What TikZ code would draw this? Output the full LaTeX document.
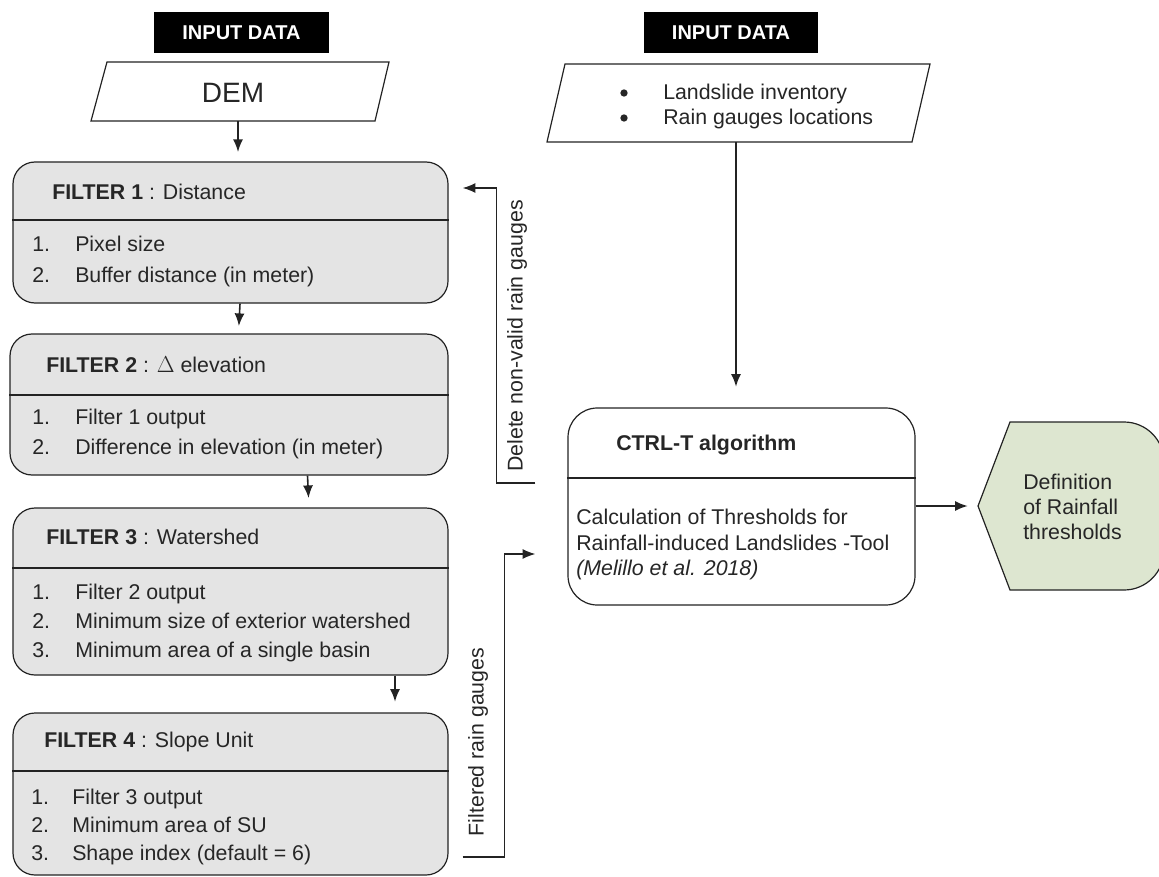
\documentclass[tikz,border=0pt]{standalone}
\usepackage{fontspec}
\setmainfont{Liberation Sans}
\usetikzlibrary{arrows.meta,fit,calc}
\definecolor{fgray}{RGB}{228,228,228}
\definecolor{hgreen}{RGB}{221,230,208}
\definecolor{lc}{RGB}{35,35,35}
\begin{document}
\begin{tikzpicture}[x=0.75pt,y=-0.75pt]
\tikzset{
  every node/.style={font=\fontsize{16pt}{19pt}\selectfont, text=black!85},
  fbox/.style={draw=lc, line width=0.9pt, fill=fgray, rounded corners=16.5pt, inner sep=0pt},
  cbox/.style={draw=lc, line width=0.9pt, fill=white, rounded corners=22pt, inner sep=0pt},
  frame/.style={inner sep=0pt},
  blk/.style={fill=black, inner sep=0pt, text=white, font=\fontsize{15pt}{18pt}\selectfont\bfseries},
  txt/.style={anchor=base west, inner sep=0pt},
  pgram/.style={draw=lc, line width=0.9pt, fill=white},
  arr/.style={draw=lc, line width=1.2pt, -{Latex[length=9.5pt,width=7.5pt]}},
  div/.style={draw=lc, line width=0.9pt},
  vlab/.style={rotate=90, inner sep=0pt},
  dot/.style={fill=black!85, circle, inner sep=0pt, minimum size=5.5pt}
}
\useasboundingbox (0,0) rectangle (1159,877);
\clip (0,0) rectangle (1159,877);

% ---------- left input ----------
\node[blk, fit={(154,12)(329,53)}] (in1) {};
\node[blk, fill=none] at (in1.center) {INPUT DATA};
\node[frame, fit={(91,62)(389,121)}] (dem) {};
\draw[pgram] (107,62) -- (389,62) -- (375,121) -- (91,121) -- cycle;
\node[font=\fontsize{21pt}{24pt}\selectfont] at (233,93) {DEM};

% ---------- filter 1 ----------
\node[fbox, fit={(13,162)(448,303)}] (f1) {};
\draw[div] (f1.west |- 0,220) -- (f1.east |- 0,220);
\node[txt] at (52,199.5) {\textbf{FILTER 1} : Distance};
\node[txt] at (32,252) {1.};
\node[txt] at (75,252) {Pixel size};
\node[txt] at (32,282) {2.};
\node[txt] at (75,282) {Buffer distance (in meter)};

% ---------- filter 2 ----------
\node[fbox, fit={(10,334)(448,475)}] (f2) {};
\draw[div] (f2.west |- 0,395) -- (f2.east |- 0,395);
\node[txt] at (46,372) {\textbf{FILTER 2} : $\Delta$ elevation};
\node[txt] at (32,424) {1.};
\node[txt] at (75,424) {Filter 1 output};
\node[txt] at (32,454) {2.};
\node[txt] at (75,454) {Difference in elevation (in meter)};

% ---------- filter 3 ----------
\node[fbox, fit={(13,508)(448,675)}] (f3) {};
\draw[div] (f3.west |- 0,568) -- (f3.east |- 0,568);
\node[txt] at (46,544) {\textbf{FILTER 3} : Watershed};
\node[txt] at (32,599) {1.};
\node[txt] at (75,599) {Filter 2 output};
\node[txt] at (32,628) {2.};
\node[txt] at (75,628) {Minimum size of exterior watershed};
\node[txt] at (32,657) {3.};
\node[txt] at (75,657) {Minimum area of a single basin};

% ---------- filter 4 ----------
\node[fbox, fit={(13,713)(448,875)}] (f4) {};
\draw[div] (f4.west |- 0,771) -- (f4.east |- 0,771);
\node[txt] at (44,747) {\textbf{FILTER 4} : Slope Unit};
\node[txt] at (31,804) {1.};
\node[txt] at (72,804) {Filter 3 output};
\node[txt] at (31,832) {2.};
\node[txt] at (72,832) {Minimum area of SU};
\node[txt] at (31,860) {3.};
\node[txt] at (72,860) {Shape index (default = 6)};

% ---------- vertical arrows ----------
\draw[arr, shorten >=7pt] ($(dem.south)+(-2,0)$) -- ($(f1.north)+(7.5,0)$);
\draw[arr, shorten >=5.5pt] ($(f1.south)+(9.5,0)$) -- ($(f2.north)+(9.5,0)$);
\draw[arr, shorten >=7pt] ($(f2.south)+(78.5,0)$) -- ($(f3.north)+(78.5,0)$);
\draw[arr, shorten >=8pt] ($(f3.south)+(164.5,0)$) -- ($(f4.north)+(164.5,0)$);

% ---------- right input ----------
\node[blk, fit={(644,12)(818,53)}] (in2) {};
\node[blk, fill=none] at (in2.center) {INPUT DATA};
\node[frame, fit={(547,64)(930,142)}] (inv) {};
\draw[pgram] (565,64) -- (930,64) -- (912,142) -- (547,142) -- cycle;
\node[dot] at (624,93) {};
\node[txt] at (663,99.5) {Landslide inventory};
\node[dot] at (624,118) {};
\node[txt] at (663,124.5) {Rain gauges locations};

% ---------- CTRL-T ----------
\node[cbox, fit={(568,408)(915,605)}] (ctrl) {};
\draw[div] (ctrl.west |- 0,478) -- (ctrl.east |- 0,478);
\node[txt] at (616,450) {\textbf{CTRL-T algorithm}};
\node[txt] at (576,524) {Calculation of Thresholds for};
\node[txt] at (576,550) {Rainfall-induced Landslides -Tool};
\node[txt] at (576,575) {\itshape (Melillo et al. 2018)};

\draw[arr, shorten >=15.5pt] ($(inv.south)+(-2.5,0)$) -- ($(ctrl.north)+(-5.5,0)$);

% ---------- output ----------
\node[frame, fit={(978,422)(1159,590)}] (hex) {};
\draw[draw=lc, line width=0.9pt, fill=hgreen] (978,506) -- (1010,422) [rounded corners=30pt] -- (1164,422) -- (1164,590) [sharp corners] -- (1010,590) -- cycle;
\node[txt] at (1023,489.5) {Definition};
\node[txt] at (1023,514.5) {of Rainfall};
\node[txt] at (1023,539.5) {thresholds};
\draw[arr, shorten >=7.5pt] ($(ctrl.east)+(0,-0.5)$) -- (hex.west |- 0,506);

% ---------- feedback connectors ----------
\draw[arr, shorten >=10.5pt] ($(ctrl.west)+(-32,-23.5)$) -| ($(f1.east)+(48,-44.5)$) -- ($(f1.east)+(0,-44.5)$);
\node[vlab] at (517,336) {Delete non-valid rain gauges};
\draw[arr, shorten >=24pt] ($(f4.east)+(14,63)$) -| ($(ctrl.west)+(-63,47.5)$) -- ($(ctrl.west)+(0,47.5)$);
\node[vlab] at (478,742) {Filtered rain gauges};
\end{tikzpicture}
\end{document}
